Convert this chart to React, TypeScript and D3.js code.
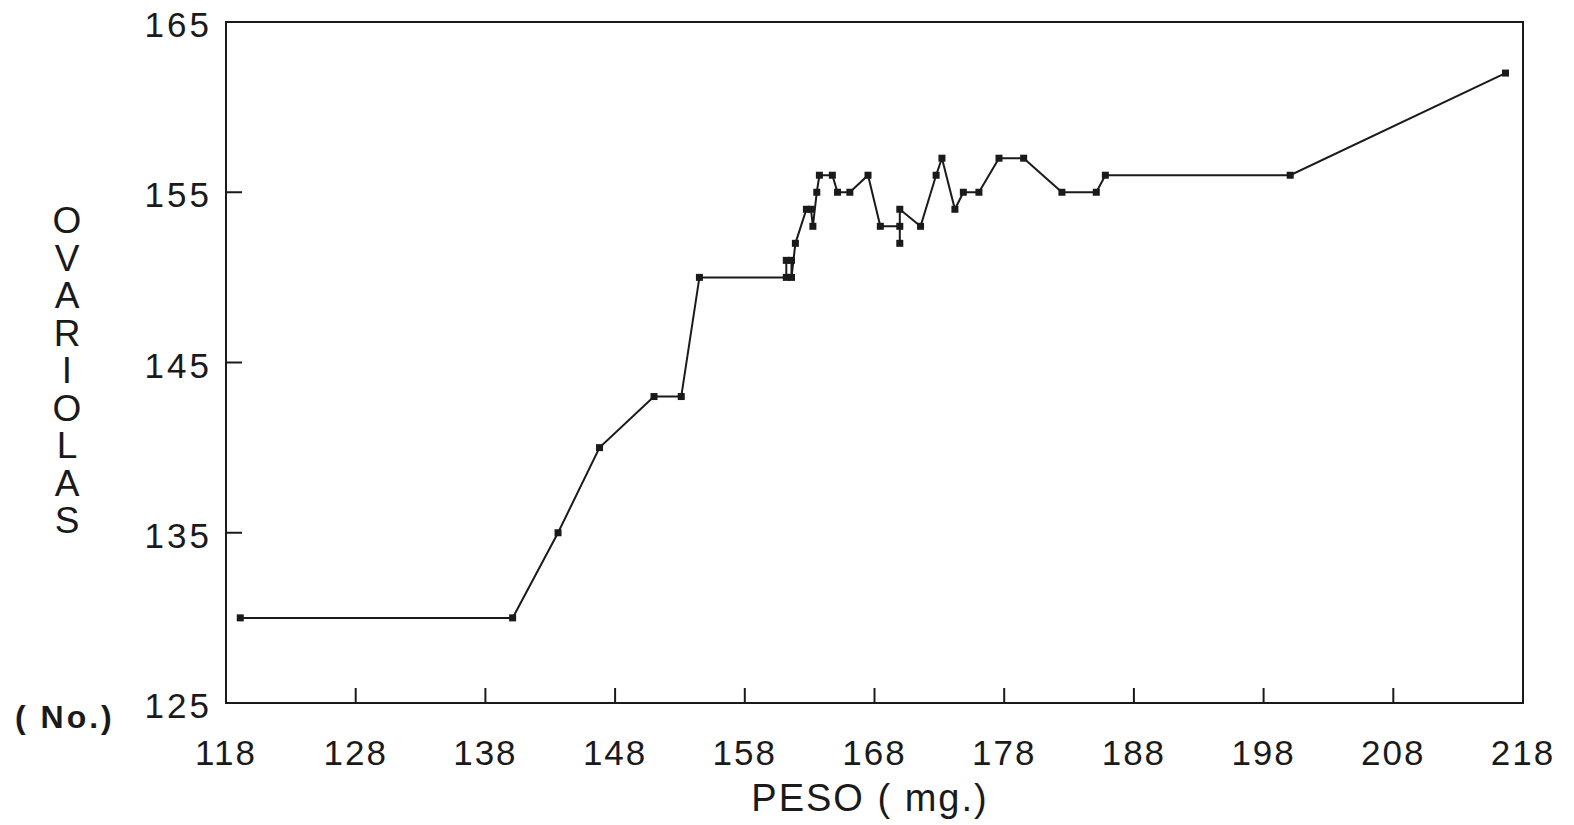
import React, { useEffect, useRef } from "react";
import * as d3 from "d3";

// peso (mg.) and number of ovarioles
const peso = [
  119.1, 140.1, 143.6, 146.8, 151.0, 153.1, 154.5, 161.2, 161.2, 161.6, 161.6,
  161.9, 162.75, 163.1, 163.25, 163.55, 163.75, 164.75, 165.15, 166.1, 167.5,
  168.45, 169.95, 169.95, 169.95, 171.55, 172.75, 173.2, 174.2, 174.85, 176.05,
  177.6, 179.5, 182.45, 185.1, 185.8, 200.05, 216.65,
];
const ovariolas = [
  130, 130, 135, 140, 143, 143, 150, 150, 151, 151, 150, 152, 154, 154, 153,
  155, 156, 156, 155, 155, 156, 153, 153, 152, 154, 153, 156, 157, 154, 155,
  155, 157, 157, 155, 155, 156, 156, 162,
];
const xTicks = [118, 128, 138, 148, 158, 168, 178, 188, 198, 208, 218];
const yTicks = [125, 135, 145, 155, 165];
const yTitle = "OVARIOLAS";
const xTitle = "PESO ( mg.)";
const unitLabel = "( No.)";

const App = () => {
  const ref = useRef<SVGSVGElement | null>(null);

  useEffect(() => {
    drawChart();
    //eslint-disable-next-line
  }, []);

  function drawChart() {
    const svg = d3.select(ref.current);
    svg.selectAll("*").remove();

    const font = "'Liberation Sans', Arial, sans-serif";
    const ink = "#1a1a1a";

    const x = d3.scaleLinear().domain([118, 218]).range([226, 1523]);
    const y = d3.scaleLinear().domain([125, 165]).range([703, 22]);

    // frame
    svg
      .append("rect")
      .attr("x", x(118))
      .attr("y", y(165))
      .attr("width", x(218) - x(118))
      .attr("height", y(125) - y(165))
      .attr("fill", "none")
      .attr("stroke", ink)
      .attr("stroke-width", 2);

    // ticks point inwards
    svg
      .selectAll(".xt")
      .data(xTicks)
      .join("line")
      .attr("x1", (d) => x(d))
      .attr("x2", (d) => x(d))
      .attr("y1", y(125))
      .attr("y2", y(125) - 15)
      .attr("stroke", ink)
      .attr("stroke-width", 2);

    svg
      .selectAll(".yt")
      .data(yTicks)
      .join("line")
      .attr("x1", x(118))
      .attr("x2", x(118) + 16)
      .attr("y1", (d) => y(d))
      .attr("y2", (d) => y(d))
      .attr("stroke", ink)
      .attr("stroke-width", 2);

    svg
      .selectAll(".xl")
      .data(xTicks)
      .join("text")
      .attr("x", (d) => x(d))
      .attr("y", 765)
      .attr("text-anchor", "middle")
      .attr("font-family", font)
      .attr("font-size", 35)
      .attr("letter-spacing", 2)
      .attr("fill", ink)
      .text((d) => d);

    svg
      .selectAll(".yl")
      .data(yTicks)
      .join("text")
      .attr("x", 212)
      .attr("y", (d) => y(d) + 15)
      .attr("text-anchor", "end")
      .attr("font-family", font)
      .attr("font-size", 35)
      .attr("letter-spacing", 3)
      .attr("fill", ink)
      .text((d) => d);

    // stacked y title
    svg
      .append("g")
      .selectAll("text")
      .data(yTitle.split(""))
      .join("text")
      .attr("x", 67)
      .attr("y", (d, i) => 233 + i * 37.5)
      .attr("text-anchor", "middle")
      .attr("font-family", font)
      .attr("font-size", 37)
      .attr("fill", ink)
      .text((d) => d);

    svg
      .append("text")
      .attr("x", 870)
      .attr("y", 811)
      .attr("text-anchor", "middle")
      .attr("font-family", font)
      .attr("font-size", 38)
      .attr("letter-spacing", 2)
      .attr("fill", ink)
      .text(xTitle);

    svg
      .append("text")
      .attr("x", 15)
      .attr("y", 728)
      .attr("font-family", font)
      .attr("font-size", 32)
      .attr("font-weight", "bold")
      .attr("letter-spacing", 3)
      .attr("fill", ink)
      .text(unitLabel);

    const pts = peso.map((p, i) => [p, ovariolas[i]] as [number, number]);

    const line = d3
      .line<[number, number]>()
      .x((d) => x(d[0]))
      .y((d) => y(d[1]));

    svg
      .append("path")
      .attr("d", line(pts))
      .attr("fill", "none")
      .attr("stroke", ink)
      .attr("stroke-width", 2);

    svg
      .selectAll(".mk")
      .data(pts)
      .join("rect")
      .attr("x", (d) => x(d[0]) - 3.5)
      .attr("y", (d) => y(d[1]) - 3.5)
      .attr("width", 7)
      .attr("height", 7)
      .attr("fill", ink);
  }

  return (
    <div style={{ position: "absolute", left: 0, top: 0 }}>
      <svg ref={ref} width={1574} height={825} style={{ display: "block", background: "#fff" }} />
    </div>
  );
};

export default App;
